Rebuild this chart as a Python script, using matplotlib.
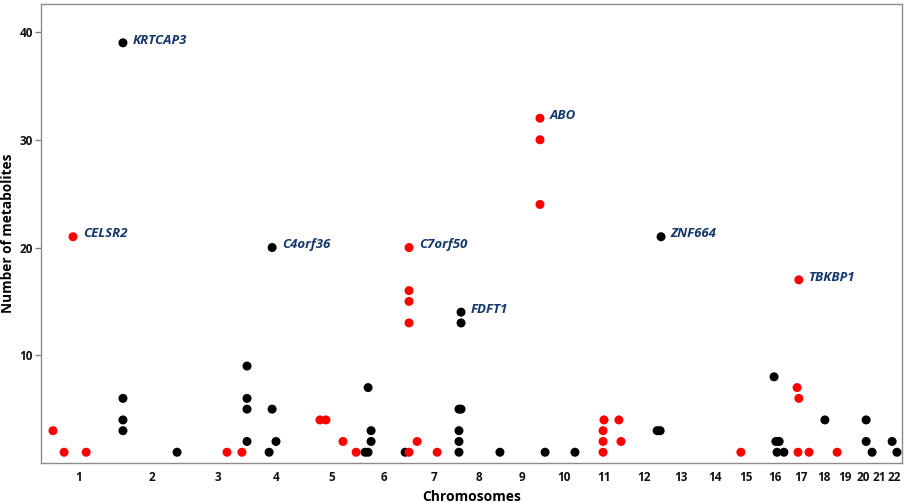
import numpy as np
import matplotlib
matplotlib.use('Agg')
import matplotlib.pyplot as plt

matplotlib.rcParams.update({
    'font.family': ['Open Sans', 'DejaVu Sans'],
    'font.weight': 'bold',
    'axes.linewidth': 1.0,
})

# chromosome lengths (Mb), used for the cumulative x axis
chrom_names = [str(i) for i in range(1, 23)]
chrom_len = [249.25, 243.2, 198.0, 191.15, 180.9, 171.1, 159.1, 146.4, 141.2,
             135.5, 135.0, 133.85, 115.2, 107.35, 102.5, 90.35, 81.2, 78.1,
             59.1, 63.0, 48.1, 51.3]

# red loci: cumulative position (Mb) and number of metabolites
red_pos = [40, 77, 151, 107, 622, 672, 933, 953, 1010, 1054,
           1231, 1231, 1231, 1231, 1231, 1258, 1325,
           1669, 1669, 1669, 1880, 1880, 1880, 1883, 1933, 1940,
           2341, 2529, 2535, 2535, 2532, 2569, 2663]
red_n = [3, 1, 1, 21, 1, 1, 4, 4, 2, 1,
         1, 20, 16, 15, 13, 2, 1,
         32, 30, 24, 3, 2, 1, 4, 4, 2,
         1, 7, 6, 17, 1, 1, 1]

# black loci
black_pos = [274, 274, 274, 274, 455, 689, 689, 689, 689, 763, 773, 773, 786,
             1084, 1094, 1094, 1104, 1104, 1218,
             1398, 1398, 1398, 1398, 1405, 1405, 1405,
             1535, 1686, 1786, 2061, 2071, 2074,
             2452, 2458, 2469, 2462, 2485, 2622, 2760, 2760, 2780, 2847, 2863]
black_n = [39, 6, 4, 3, 1, 9, 6, 5, 2, 1, 20, 5, 2,
           1, 7, 1, 3, 2, 1,
           5, 3, 2, 1, 14, 13, 5,
           1, 1, 1, 3, 3, 21,
           8, 2, 2, 1, 1, 4, 4, 2, 1, 2, 1]

# annotated genes
genes = ['CELSR2', 'KRTCAP3', 'C4orf36', 'C7orf50', 'FDFT1', 'ABO', 'ZNF664', 'TBKBP1']
gene_pos = [107, 274, 773, 1231, 1405, 1669, 2074, 2535]
gene_n = [21, 39, 20, 20, 14, 32, 21, 17]

starts = np.concatenate([[0], np.cumsum(chrom_len)[:-1]])
mids = starts + np.array(chrom_len) / 2

fig = plt.figure(figsize=(9.06, 5.03), dpi=100)
ax = fig.add_axes([0.0453, 0.0795, 0.9503, 0.9125])

ax.scatter(black_pos, black_n, s=42, color='black', edgecolors='none', zorder=3)
ax.scatter(red_pos, red_n, s=42, color='#ff0000', edgecolors='none', zorder=4)

for g, x, y in zip(genes, gene_pos, gene_n):
    ax.annotate(g, xy=(x, y), xytext=(7, 2), textcoords='offset points',
                ha='left', va='center', fontsize=9.5, fontweight='bold',
                style='italic', color='#14386b')

ax.set_xlim(0, 2880)
ax.set_ylim(0, 42.6)
ax.set_xticks(mids)
ax.set_xticklabels(chrom_names)
ax.set_yticks([10, 20, 30, 40])
ax.tick_params(axis='x', length=0, pad=6, labelsize=8.5, labelcolor='#111111')
ax.tick_params(axis='y', length=4, width=1, color='#808080', pad=2,
               labelsize=8.5, labelcolor='#111111')
for lbl in ax.get_xticklabels() + ax.get_yticklabels():
    lbl.set_fontweight('bold')
for sp in ax.spines.values():
    sp.set_color('#8c8c8c')

ax.set_xlabel('Chromosomes', fontsize=10, fontweight='bold', labelpad=4)
ax.set_ylabel('Number of metabolites', fontsize=9.8, fontweight='bold', labelpad=3)

fig.savefig('out.png', dpi=100)
plt.close()
